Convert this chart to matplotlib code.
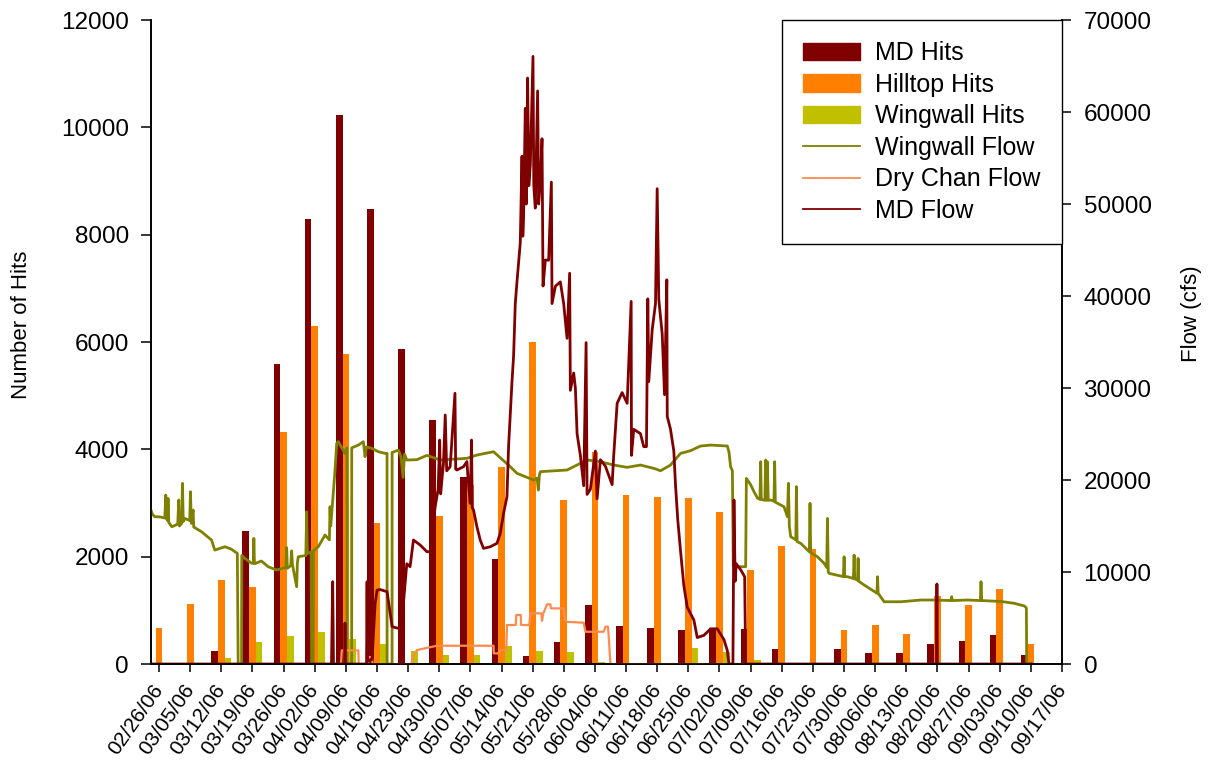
import matplotlib.pyplot as plt
from matplotlib.lines import Line2D
from matplotlib.patches import Patch
import numpy as np
import pandas as pd

plt.rcParams['font.family'] = ['Liberation Sans', 'DejaVu Sans']

start = pd.Timestamp('2006-02-26')

# weekly tick labels (bars sit on the first 29 weeks)
week_labels = ['02/26/06', '03/05/06', '03/12/06', '03/19/06', '03/26/06', '04/02/06',
               '04/09/06', '04/16/06', '04/23/06', '04/30/06', '05/07/06', '05/14/06',
               '05/21/06', '05/28/06', '06/04/06', '06/11/06', '06/18/06', '06/25/06',
               '07/02/06', '07/09/06', '07/16/06', '07/23/06', '07/30/06', '08/06/06',
               '08/13/06', '08/20/06', '08/27/06', '09/03/06', '09/10/06', '09/17/06']

md_hits = [0, 0, 242, 2481, 5600, 8291, 10230, 8477, 5867, 4550, 3483, 1956, 145, 412,
           1099, 711, 671, 630, 671, 655, 275, 0, 275, 210, 210, 372, 436, 541, 170]
hilltop_hits = [679, 1115, 1568, 1430, 4323, 6295, 5778, 2626, 0, 2756, 3337, 3669, 5996,
                3055, 3952, 3152, 3111, 3095, 2828, 1754, 2198, 2141, 630, 727, 558, 1269,
                1099, 1398, 372]
wingwall_hits = [0, 0, 113, 412, 517, 598, 469, 372, 234, 170, 170, 331, 250, 226, 40, 0,
                 0, 299, 226, 73, 0, 0, 0, 0, 0, 0, 0, 0, 0]

# flow records: (days after 02/26/06, cfs)
wingwall_flow = [
    (-2.09, 17100), (-1.5, 16300), (-0.97, 16010), (0.16, 16000), (1.3, 15870), (1.51, 18370),
    (1.7, 15800), (1.9, 15600), (2.03, 18000), (2.2, 15400), (2.86, 14920), (4.2, 15200),
    (4.44, 17830), (4.6, 15000), (5.1, 15300), (5.27, 19640), (5.45, 15500), (5.79, 15830),
    (6.9, 15600), (7.07, 18730), (7.25, 15300), (7.66, 16740), (7.8, 14900), (9.55, 14380),
    (11.8, 13480), (12.54, 12390), (14.79, 12750), (16.2, 12500), (17.6, 12030), (17.79, 0),
    (18.55, 0), (18.6, 11800), (19.3, 11490), (20.8, 10950), (21.2, 11000), (21.32, 13660),
    (21.45, 10900), (23.0, 11200), (24.54, 10580), (26.43, 10220), (28.5, 10500),
    (28.69, 12660), (28.85, 10400), (29.6, 10700), (29.81, 12300), (30.0, 10800),
    (30.94, 8400), (31.1, 11000), (31.3, 11660), (33.0, 11800), (33.19, 16550), (33.35, 12000),
    (34.2, 12210), (34.31, 0), (34.67, 0), (34.7, 12300), (35.8, 12750), (37.31, 14020),
    (38.3, 13500), (38.44, 17100), (38.6, 15000), (39.57, 21090), (39.94, 23990),
    (40.3, 24170), (41.81, 22900), (42.25, 23500), (42.26, 0), (43.31, 0), (43.32, 23500),
    (44.81, 23800), (45.93, 24170), (46.32, 22540), (46.6, 23600), (47.82, 23450),
    (49.31, 23080), (50.82, 22900), (51.26, 22900), (51.27, 0), (52.39, 0), (52.4, 23000),
    (53.81, 23260), (54.4, 22500), (54.87, 20300), (55.2, 22800), (55.7, 22180),
    (57.96, 22210), (60.21, 22680), (63.2, 22180), (69.21, 22360), (71.47, 22720),
    (75.2, 23080), (78.96, 21450), (80.47, 20730), (84.21, 20000), (85.0, 20200),
    (85.27, 18910), (85.5, 20500), (85.72, 20910), (91.73, 21090), (93.98, 21630),
    (96.23, 22180), (99.23, 21990), (102.22, 21630), (105.24, 21380), (108.23, 21630),
    (111.23, 21270), (112.74, 21010), (114.99, 21630), (117.24, 22900), (119.49, 23190),
    (121.75, 23700), (124.0, 23800), (127.76, 23700), (128.12, 23080), (128.5, 21450),
    (128.9, 21000), (129.1, 10580), (131.88, 10580), (132.04, 20180), (133.0, 19500),
    (133.75, 18730), (134.58, 18010), (135.1, 17900), (135.26, 21990), (135.4, 17900),
    (136.2, 17800), (136.38, 22180), (136.55, 17800), (136.76, 21990), (136.95, 17800),
    (137.51, 17830), (138.25, 17700), (138.4, 21990), (138.55, 17600), (140.5, 17100),
    (141.27, 16010), (141.49, 19640), (141.7, 15000), (142.01, 13840), (143.15, 13500),
    (143.29, 19280), (143.45, 13300), (144.26, 13120), (145.77, 12400), (146.2, 12200),
    (146.35, 17470), (146.5, 12100), (148.02, 11660), (149.51, 10950), (150.1, 10500),
    (150.27, 15830), (150.45, 10000), (150.63, 9860), (153.85, 9500), (154.01, 11660),
    (154.15, 9500), (154.77, 9490), (156.1, 9300), (156.26, 11840), (156.4, 9250),
    (157.03, 9130), (157.16, 11480), (157.3, 9000), (158.52, 8590), (161.4, 7700),
    (161.53, 9490), (161.67, 7690), (163.02, 6770), (166.78, 6770), (171.28, 6960),
    (174.28, 6960), (178.05, 6900), (178.19, 7320), (178.35, 6900), (181.8, 6960),
    (184.65, 6900), (184.79, 8950), (184.95, 6900), (189.29, 6800), (192.29, 6600),
    (194.54, 6310), (194.99, 6100), (195.06, 0), (196.05, 0),
]

dry_chan_flow = [
    (-1.87, 0), (40.91, 0), (41.07, 1480), (44.81, 1480), (44.9, 0), (46.99, 0), (47.1, 760),
    (47.89, 760), (48.0, 0), (56.67, 0), (57.19, 800), (57.96, 1520), (62.46, 1990),
    (75.2, 1990), (75.25, 1160), (76.26, 1160), (76.71, 1520), (78.07, 1520), (78.22, 4240),
    (80.2, 4240), (80.32, 5330), (81.33, 5330), (81.38, 4240), (83.24, 4240), (83.47, 5510),
    (85.94, 5510), (86.1, 4700), (86.39, 5510), (87.23, 6490), (87.97, 6490), (88.1, 6050),
    (90.97, 6050), (91.35, 4600), (95.47, 4490), (95.85, 3510), (99.97, 3510), (100.35, 4060),
    (100.92, 4060), (101.1, 2970), (101.48, 0), (196.05, 0),
]

md_flow = [
    (-1.87, 0), (38.77, 0), (39.04, 8950), (39.22, 0), (41.7, 0), (41.81, 4460), (41.93, 0),
    (46.65, 0), (46.77, 8950), (46.88, 300), (47.89, 500), (48.57, 6500), (49.02, 8040),
    (49.7, 8100), (51.27, 7860), (51.95, 5540), (52.4, 4060), (53.81, 3880), (54.42, 4200),
    (54.87, 6200), (55.7, 10900), (56.44, 10580), (57.19, 13480), (58.7, 12940),
    (60.21, 12210), (60.95, 12210), (62.08, 17100), (62.75, 19000), (63.09, 24350),
    (63.32, 18500), (63.59, 20000), (63.95, 21820), (64.34, 27070), (64.67, 21000),
    (65.45, 21450), (66.53, 29430), (66.69, 21200), (66.96, 21090), (68.45, 21450),
    (69.21, 22000), (69.5, 20000), (69.96, 17470), (70.25, 24350), (70.41, 17000),
    (70.7, 16740), (71.47, 14920), (72.21, 13480), (72.95, 12570), (74.46, 12750),
    (75.97, 13120), (76.71, 14200), (77.46, 16380), (78.22, 18190), (78.58, 23620),
    (79.35, 30700), (79.71, 33500), (80.09, 39180), (80.47, 41540), (81.21, 45780),
    (81.6, 55200), (81.78, 46500), (81.96, 48600), (82.34, 60400), (82.56, 50000),
    (82.86, 63700), (83.13, 52000), (83.47, 54260), (84.07, 66050), (84.25, 52000),
    (84.59, 49560), (85.11, 62290), (85.34, 50000), (85.72, 52390), (86.1, 57100),
    (86.33, 41090), (86.85, 43910), (87.59, 43900), (88.2, 52390), (88.35, 39180),
    (89.1, 41070), (90.22, 41540), (90.97, 39180), (91.73, 35410), (92.31, 42480),
    (92.47, 29750), (93.22, 31640), (93.6, 30000), (93.98, 25050), (94.72, 22680),
    (95.47, 19380), (96.01, 34940), (96.23, 18440), (96.97, 19000), (98.1, 23150),
    (98.48, 17970), (99.23, 22210), (100.35, 21500), (101.86, 19500), (102.22, 22680),
    (102.99, 28340), (104.11, 29510), (105.24, 28340), (106.14, 39420), (106.21, 22680),
    (106.72, 25510), (108.23, 25050), (108.97, 23630), (109.58, 23630), (109.88, 39700),
    (110.1, 30700), (110.87, 36340), (111.61, 39180), (111.99, 51670), (112.35, 39650),
    (113.12, 35880), (113.64, 29280), (114.16, 41770), (114.25, 26920), (114.99, 25510),
    (115.73, 23150), (116.12, 19380), (116.63, 15610), (117.24, 12310), (117.98, 8540),
    (118.75, 6180), (120.24, 4780), (121.0, 2880), (122.49, 3120), (124.0, 3830),
    (125.51, 3830), (127.0, 2650), (127.76, 1470), (128.12, 0), (129.02, 0), (129.25, 17830),
    (129.52, 9000), (129.77, 10900), (130.8, 10220), (131.66, 9480), (131.88, 0),
    (174.77, 0), (174.88, 8700), (174.99, 0), (196.05, 0),
]

MD_RED = '#800000'
HILLTOP = '#FF8000'
WW_HITS = '#C0C000'
WW_FLOW = '#808000'
DRY_CHAN = '#FF8A50'


def series(pairs):
    days, cfs = zip(*pairs)
    return start + pd.to_timedelta(np.array(days), unit='D'), np.array(cfs)


week_dates = pd.to_datetime(week_labels, format='%m/%d/%y')
bar_dates = week_dates[:len(md_hits)]
shift = pd.Timedelta(days=1.5)

fig = plt.figure(figsize=(12.14, 7.63), dpi=100)
ax = fig.add_axes([0.1244, 0.1297, 0.7504, 0.8440])

ax.bar(bar_dates - shift, md_hits, width=1.5, color=MD_RED)
ax.bar(bar_dates, hilltop_hits, width=1.5, color=HILLTOP)
ax.bar(bar_dates + shift, wingwall_hits, width=1.5, color=WW_HITS)

ax2 = ax.twinx()
for pairs, col, lw in [(wingwall_flow, WW_FLOW, 2.0),
                       (dry_chan_flow, DRY_CHAN, 1.6),
                       (md_flow, MD_RED, 2.0)]:
    d, v = series(pairs)
    ax2.plot(d, v, color=col, lw=lw)

ax.set_xlim(start - pd.Timedelta(days=1.8), week_dates[-1])
ax.set_ylim(0, 12000)
ax2.set_ylim(0, 70000)
ax.set_yticks(range(0, 12001, 2000))
ax2.set_yticks(range(0, 70001, 10000))
ax.set_xticks(week_dates)
ax.set_xticklabels(week_labels, rotation=55, ha='right', va='center',
                   rotation_mode='anchor')

for a in (ax, ax2):
    a.spines['top'].set_visible(False)
    for s in a.spines.values():
        s.set_linewidth(1.2)
ax.tick_params(axis='y', direction='out', length=7, width=1.1, labelsize=17.5, pad=9)
ax.tick_params(axis='x', direction='out', length=6, width=1.1, labelsize=15, pad=10)
ax2.tick_params(axis='y', direction='out', length=6.5, width=1.1, labelsize=17.5, pad=9)

fig.text(22 / 1214, 1 - 325 / 763, 'Number of Hits', rotation=90, fontsize=16,
         ha='center', va='center')
fig.text(1192 / 1214, 1 - 314 / 763, 'Flow (cfs)', rotation=90, fontsize=16,
         ha='center', va='center')

handles = [Patch(color=MD_RED), Patch(color=HILLTOP), Patch(color=WW_HITS),
           Line2D([], [], color=WW_FLOW, lw=1.3), Line2D([], [], color=DRY_CHAN, lw=1.3),
           Line2D([], [], color=MD_RED, lw=1.3)]
names = ['MD Hits', 'Hilltop Hits', 'Wingwall Hits', 'Wingwall Flow', 'Dry Chan Flow', 'MD Flow']
leg = ax2.legend(handles, names, loc='upper right', bbox_to_anchor=(1062 / 1214, 1 - 20 / 763),
                 bbox_transform=fig.transFigure, borderaxespad=0, fontsize=18,
                 fancybox=False, framealpha=1, edgecolor='black', labelspacing=0.3,
                 handlelength=2.3, handletextpad=0.6, borderpad=0.85)
leg.get_frame().set_linewidth(1.0)

fig.savefig('out.png', dpi=100)
